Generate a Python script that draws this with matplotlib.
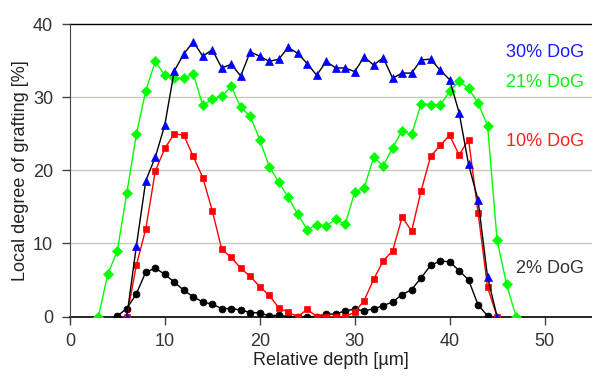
import numpy as np
import matplotlib.pyplot as plt

plt.rcParams['font.family'] = ['Liberation Sans', 'DejaVu Sans']

# Local degree of grafting [%] vs relative depth [um], 1 um steps
x30 = np.arange(6, 46)
y30 = [0, 9.6, 18.6, 21.8, 26.2, 33.6, 35.9, 37.6, 35.6, 36.5, 34.0, 34.5, 32.9,
       36.2, 35.6, 34.9, 35.2, 36.8, 36.0, 34.6, 33.0, 34.9, 34.0, 34.0, 33.5,
       35.5, 34.4, 35.4, 32.6, 33.3, 33.3, 35.1, 35.2, 33.7, 32.4, 27.9, 20.8,
       15.9, 5.4, 0]

x21 = np.arange(3, 48)
y21 = [0, 5.8, 9.0, 16.9, 24.9, 30.9, 34.9, 33.0, 32.6, 32.6, 33.2, 28.9, 29.7,
       30.1, 31.5, 28.6, 27.4, 24.2, 20.5, 18.4, 16.3, 14.0, 11.9, 12.5, 12.4,
       13.3, 12.6, 17.0, 17.6, 21.8, 20.6, 23.1, 25.4, 24.9, 29.1, 29.0, 28.9,
       30.8, 32.2, 31.2, 29.2, 26.1, 10.5, 4.4, 0]

x10 = np.arange(6, 46)
y10 = [0, 7.0, 12.0, 19.9, 23.0, 25.0, 24.8, 21.9, 19.0, 14.5, 9.2, 8.1, 6.6,
       5.5, 4.1, 2.9, 1.2, 0.6, 0, 1.0, 0, 0, 0, 0, 0.6, 2.2, 5.1, 7.6, 9.0,
       13.6, 11.7, 17.2, 21.9, 23.4, 24.8, 22.1, 24.2, 14.2, 4.0, 0]

x2 = np.arange(5, 45)
y2 = [0.1, 1.1, 3.1, 6.1, 6.6, 5.8, 4.7, 3.6, 2.7, 2.0, 1.7, 1.1, 1.1, 0.9,
      0.55, 0.5, 0.1, 0.2, 0, 0, 0, 0, 0.35, 0.35, 0.8, 1.0, 0.8, 1.05, 1.5,
      2.0, 3.0, 3.7, 5.3, 7.0, 7.6, 7.5, 6.3, 5.0, 1.6, 0.1]

fig = plt.figure(figsize=(5.92, 3.76), dpi=100)
ax = fig.add_axes([0.118, 0.158, 0.882, 0.778])

ax.plot(x2, y2, color='black', lw=1, marker='o', ms=5, mew=0.5, zorder=3)
ax.plot(x21, y21, color='#00ff00', lw=1, marker='D', ms=4.8, mew=0.5, zorder=4)
ax.plot(x10, y10, color='#ff0000', lw=1, marker='s', ms=5, mew=0.5, zorder=5)
ax.plot(x30, y30, color='black', lw=1, marker='^', ms=6, mew=0.5,
        markerfacecolor='#0000ff', markeredgecolor='#0000ff', zorder=6)

# series labels
lab_kw = dict(fontsize=13, ha='right', va='center')
ax.text(54.2, 36.1, '30% DoG', color='#1a1aff', **lab_kw)
ax.text(54.2, 32.0, '21% DoG', color='#11ee11', **lab_kw)
ax.text(54.2, 24.0, '10% DoG', color='#ff2020', **lab_kw)
ax.text(54.2, 6.6, '2% DoG', color='#333333', **lab_kw)

ax.set_xlim(0, 55)
ax.set_ylim(0, 40)
ax.set_xticks([0, 10, 20, 30, 40, 50])
ax.set_yticks([0, 10, 20, 30, 40])
ax.set_xlabel('Relative depth [\u00b5m]', fontsize=13, color='#222222', labelpad=1)
ax.set_ylabel('Local degree of grafting [%]', fontsize=13, color='#222222', labelpad=3)

for y in [10, 20, 30]:
    ax.axhline(y, color='#c8c8c0', lw=1, zorder=1)
ax.axhline(40, color='black', lw=1, zorder=2, clip_on=False)
ax.axhline(0, color='black', lw=1.2, zorder=2, clip_on=False)

for s in ['top', 'right', 'bottom']:
    ax.spines[s].set_visible(False)
ax.spines['left'].set_color('#444444')
ax.spines['left'].set_bounds(-0.9, 40)
ax.tick_params(axis='both', direction='out', length=6, width=1, colors='#444444',
               labelsize=13, labelcolor='#333333')
ax.tick_params(axis='x', pad=6)
ax.tick_params(axis='y', pad=6)

fig.savefig('out.png', dpi=100)
